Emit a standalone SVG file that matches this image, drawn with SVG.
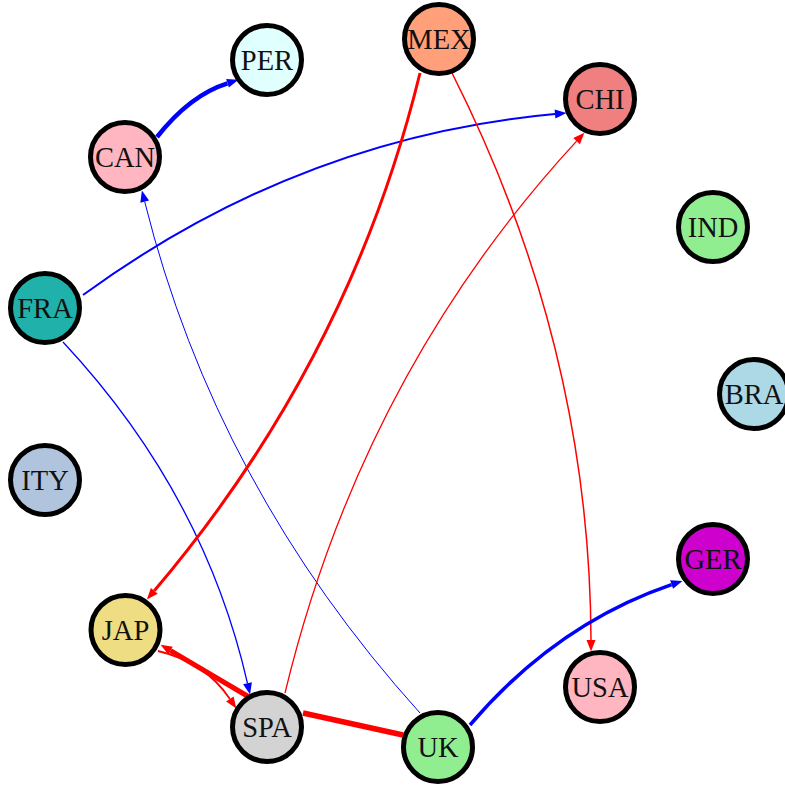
<svg xmlns="http://www.w3.org/2000/svg" width="785" height="788" viewBox="0 0 785 788">
<style>
.n circle{stroke:#000;stroke-width:5}
.n text{font-family:"Liberation Serif","Times New Roman",serif;font-size:28.5px;text-anchor:middle;fill:#111}
.e{fill:none}
.r{stroke:#FF0000}
.b{stroke:#0000FF}
</style>
<defs>
<marker id="ar" markerUnits="userSpaceOnUse" markerWidth="12" markerHeight="10" refX="0" refY="4.5" orient="auto" overflow="visible"><path d="M0,0 L11.5,4.5 L0,9 z" fill="#FF0000"/></marker>
<marker id="ab" markerUnits="userSpaceOnUse" markerWidth="12" markerHeight="10" refX="0" refY="4.5" orient="auto" overflow="visible"><path d="M0,0 L11.5,4.5 L0,9 z" fill="#0000FF"/></marker>
</defs>
<rect width="785" height="788" fill="#fff"/>
<g id="edges">
<path class="e b" stroke-width="4.5" d="M157,137 Q190,95 227.5,83.3" marker-end="url(#ab)"/>
<path class="e b" stroke-width="2" d="M83,295 Q300,137 555,114" marker-end="url(#ab)"/>
<path class="e b" stroke-width="1.3" d="M63,342 Q204,493 247.5,683.3" marker-end="url(#ab)"/>
<path class="e b" stroke-width="1" d="M420,713 Q216,487 144.7,201.7" marker-end="url(#ab)"/>
<path class="e r" stroke-width="3" d="M420,73 Q350,360 154.3,590.8" marker-end="url(#ar)"/>
<path class="e r" stroke-width="1.5" d="M452,73 Q590,346 591,640" marker-end="url(#ar)"/>
<path class="e r" stroke-width="1.3" d="M285,693 Q362,374 576.6,141.1" marker-end="url(#ar)"/>
<path class="e r" stroke-width="5" d="M249,697 L170.5,650.6" marker-end="url(#ar)"/>
<path class="e r" stroke-width="1.8" d="M158,651 Q205,662 229.9,698.9" marker-end="url(#ar)"/>
<path class="e r" stroke-width="5.5" d="M303,713 L403,735"/>
<path class="e b" stroke-width="3.5" d="M470,725 Q556,624 671.6,584.6" marker-end="url(#ab)"/>
</g>
<g id="PER" class="n"><circle cx="267" cy="60" r="34.5" fill="#E0FFFF"/><text x="267" y="70">PER</text></g>
<g id="MEX" class="n"><circle cx="439" cy="39" r="34.5" fill="#FFA07A"/><text x="439" y="49">MEX</text></g>
<g id="CHI" class="n"><circle cx="600" cy="99" r="34.5" fill="#F08080"/><text x="600" y="109">CHI</text></g>
<g id="CAN" class="n"><circle cx="125" cy="157" r="34.5" fill="#FFB6C1"/><text x="125" y="167">CAN</text></g>
<g id="IND" class="n"><circle cx="713" cy="227" r="34.5" fill="#90EE90"/><text x="713" y="237">IND</text></g>
<g id="FRA" class="n"><circle cx="45" cy="308" r="34.5" fill="#20B2AA"/><text x="45" y="318">FRA</text></g>
<g id="BRA" class="n"><circle cx="754" cy="394" r="34.5" fill="#ADD8E6"/><text x="754" y="404">BRA</text></g>
<g id="ITY" class="n"><circle cx="45" cy="480" r="34.5" fill="#B0C4DE"/><text x="45" y="490">ITY</text></g>
<g id="GER" class="n"><circle cx="713" cy="559" r="34.5" fill="#CD00CD"/><text x="713" y="569">GER</text></g>
<g id="JAP" class="n"><circle cx="125.5" cy="630" r="34.5" fill="#EEDD82"/><text x="125.5" y="640">JAP</text></g>
<g id="USA" class="n"><circle cx="600" cy="687" r="34.5" fill="#FFB6C1"/><text x="600" y="697">USA</text></g>
<g id="SPA" class="n"><circle cx="267" cy="727" r="34.5" fill="#D3D3D3"/><text x="267" y="737">SPA</text></g>
<g id="UK" class="n"><circle cx="438" cy="747" r="34.5" fill="#90EE90"/><text x="438" y="757">UK</text></g>
</svg>
